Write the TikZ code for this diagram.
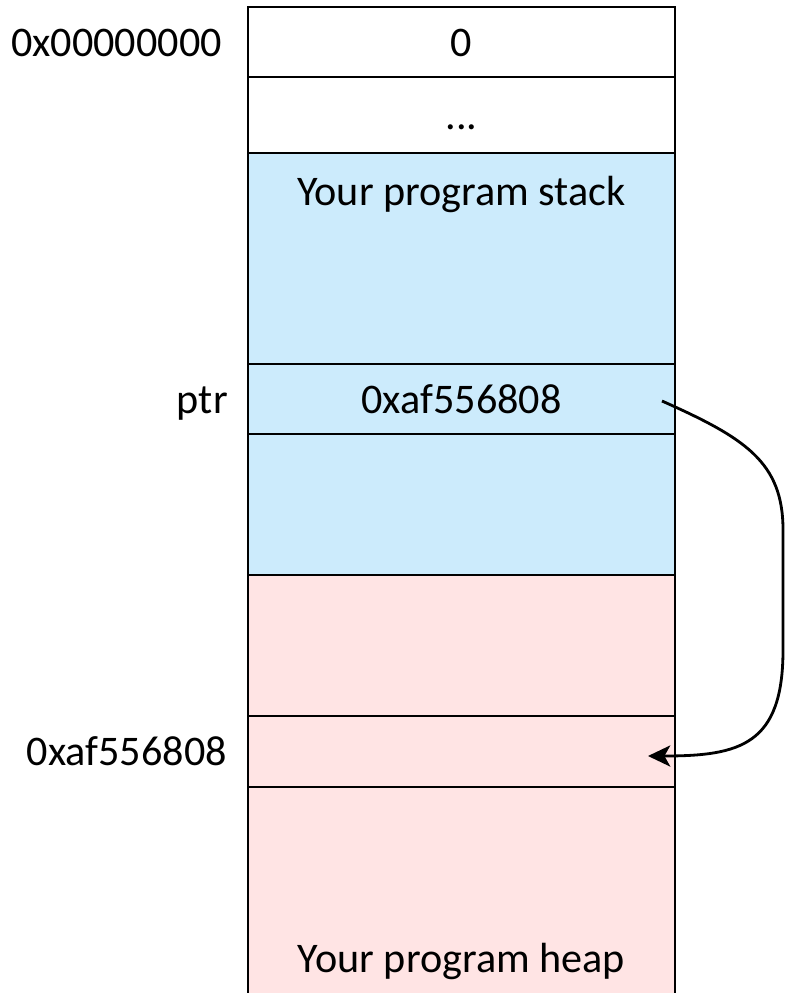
\documentclass[tikz,border=0pt]{standalone}
\usepackage{fontspec}
\setmainfont{Carlito}
\usetikzlibrary{arrows.meta}
\definecolor{stackblue}{RGB}{204,235,252}
\definecolor{heappink}{RGB}{255,228,228}

\begin{document}
\begin{tikzpicture}[x = 0.03cm, y = -0.03cm,
	memtext/.style = {inner sep = 0pt, text height = 34pt, text depth = 9.7pt, font = \fontsize{36}{43}\selectfont},
	cell/.style = {memtext, draw, line width = 2.4pt, minimum width = 12.81cm},
	addr/.style = {memtext, anchor = east}]
	\useasboundingbox (0,0) rectangle (784,993);
	\node[cell, minimum height = 2.1cm] (zero) at (461.5,42) {0};
	\node[cell, minimum height = 2.28cm] (dots) at (461.5,115) {...};
	\node[cell, fill = stackblue, minimum height = 6.33cm] (stack) at (461.5,258.5) {};
	\node[cell, fill = stackblue, minimum height = 2.1cm] (ptrval) at (461.5,399) {0xaf556808};
	\node[cell, fill = stackblue, minimum height = 4.23cm] (stacklow) at (461.5,504.5) {};
	\node[cell, fill = heappink, minimum height = 4.23cm] (heaptop) at (461.5,645.5) {};
	\node[cell, fill = heappink, minimum height = 2.13cm] (target) at (461.5,751.5) {};
	\node[cell, fill = heappink, minimum height = 6.69cm] (heap) at (461.5,898.5) {};
	\node[memtext] (stacktext) at (461.5,191) {Your program stack};
	\node[memtext] (heaptext) at (461.5,958) {Your program heap};
	\node[addr] (nulladdr) at (222,42) {0x00000000};
	\node[addr] (ptrname) at (228,399) {ptr};
	\node[addr] (targetaddr) at (227,751.5) {0xaf556808};
	\coordinate (ptrout) at (662,401);
	\coordinate (heapin) at (648,756);
	\draw[line width = 2.4pt, -{Stealth[length = 19pt, width = 18pt, inset = 5pt]}] (ptrout) .. controls (745,438) and (783,462) .. (783,530) -- (783,650) .. controls (783,745) and (740,756) .. (heapin);
\end{tikzpicture}
\end{document}
